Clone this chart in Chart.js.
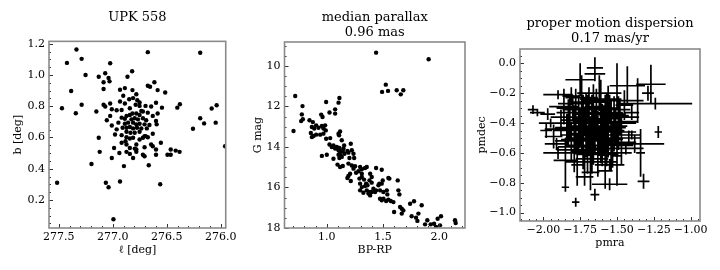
<!DOCTYPE html>
<html>
<head>
<meta charset="utf-8">
<script src="https://cdn.jsdelivr.net/npm/chart.js@4.4.1/dist/chart.umd.min.js"></script>
<style>
    html, body {
        margin: 0;
        padding: 0;
        background: #ffffff;
    }

    #figure {
        position: relative;
        width: 720px;
        height: 270px;
        overflow: hidden;
    }

    #figure canvas {
        position: absolute;
        top: 0;
    }
</style>
</head>
<body>
<div id="figure">
    <canvas id="skyChart" width="240" height="270" style="left:0px"></canvas>
    <canvas id="cmdChart" width="240" height="270" style="left:240px"></canvas>
    <canvas id="pmChart" width="250" height="270" style="left:470px"></canvas>
</div>
<script>

const SERIF = "'DejaVu Serif', 'Liberation Serif', serif";

// panel 1: sky positions
const skyTitle = "UPK 558";

const glon = [
    277.336, 277.424, 277.288, 277.252, 277.385, 277.470, 277.342, 277.288,
    277.515, 277.197, 277.070, 277.024, 276.821, 276.676, 276.191, 277.064,
    277.039, 276.994, 276.933, 276.897, 276.667, 276.561, 276.258, 276.191,
    276.155, 276.085, 276.039, 276.048, 275.961,
    277.130, 277.039, 277.030, 277.085, 276.864, 277.085, 276.615, 276.676,
    276.655, 276.585, 276.515, 276.933, 276.888, 276.818, 276.903, 276.782,
    276.933, 276.888, 276.848, 276.812, 276.773, 276.752, 276.788, 276.752,
    276.697, 276.645, 276.600, 276.379, 276.403, 277.085, 277.070, 277.024,
    277.009, 276.964, 276.918, 276.842, 276.736, 276.721, 276.545, 277.152,
    276.818, 276.782, 276.873, 276.842, 276.752, 276.676, 276.630, 276.585,
    276.918, 276.888, 277.024, 276.827, 276.797, 276.767, 276.721, 276.691,
    276.948, 276.888, 276.858, 276.812, 276.782, 276.752, 276.706, 276.661,
    276.600, 277.055, 276.909, 276.873, 276.842, 276.812, 276.776, 276.736,
    276.685, 276.594, 277.009, 276.964, 276.873, 276.836, 276.797, 276.752,
    276.706, 276.676, 276.630, 276.979, 276.918, 276.873, 276.842, 276.812,
    276.752, 277.130, 276.918, 276.882, 276.721, 276.697, 276.782, 276.988,
    276.873, 276.645, 276.555, 276.842, 276.797, 276.782, 276.706, 276.630,
    276.600, 276.464, 276.418, 276.382, 276.494, 276.464, 277.121, 276.939,
    276.873, 276.842, 276.782, 276.721, 276.706, 276.600, 277.009, 276.812
];

const glat = [
    1.163, 1.077, 1.103, 1.000, 0.897, 0.787, 0.755, 0.809,
    0.310, 0.430, 1.011, 1.075, 1.024, 1.146, 1.142, 0.310,
    0.282, 0.077, 0.318, 0.417, 0.422, 0.301, 0.656, 0.723,
    0.690, 0.785, 0.806, 0.695, 0.544,
    0.989, 0.981, 0.959, 0.953, 0.989, 0.910, 0.953, 0.931,
    0.925, 0.903, 0.888, 0.905, 0.916, 0.903, 0.867, 0.877,
    0.830, 0.817, 0.845, 0.852, 0.839, 0.824, 0.809, 0.802,
    0.802, 0.798, 0.822, 0.813, 0.791, 0.809, 0.798, 0.817,
    0.781, 0.774, 0.776, 0.787, 0.770, 0.766, 0.791, 0.766,
    0.753, 0.753, 0.738, 0.744, 0.744, 0.759, 0.738, 0.753,
    0.727, 0.720, 0.738, 0.716, 0.723, 0.716, 0.723, 0.710,
    0.695, 0.688, 0.695, 0.695, 0.684, 0.688, 0.684, 0.680,
    0.705, 0.710, 0.662, 0.662, 0.667, 0.658, 0.662, 0.658,
    0.658, 0.684, 0.677, 0.652, 0.637, 0.630, 0.630, 0.637,
    0.609, 0.602, 0.624, 0.619, 0.615, 0.602, 0.594, 0.598,
    0.587, 0.598, 0.566, 0.576, 0.598, 0.609, 0.555, 0.533,
    0.555, 0.555, 0.566, 0.533, 0.529, 0.523, 0.538, 0.544,
    0.523, 0.523, 0.516, 0.508, 0.490, 0.490, 0.508, 0.501,
    0.508, 0.495, 0.508, 0.490, 0.480, 0.490, 0.469, 0.469
];

const glonTicks = [277.5, 277.0, 276.5, 276.0];
const glatTicks = [0.2, 0.4, 0.6, 0.8, 1.0, 1.2];

// panel 2: colour-magnitude diagram
const cmdTitle = ["median parallax", "0.96 mas"];

const bpRp = [
    1.438, 1.905, 1.524, 1.491, 1.544, 1.621, 1.657, 1.680,
    0.719, 0.994, 1.112, 1.104, 0.784, 0.778, 0.787, 0.772,
    0.846, 0.876, 0.950, 0.962, 1.024, 1.074, 1.074, 0.704,
    0.867, 0.888, 0.905, 0.926, 0.956, 0.985, 0.970, 0.991,
    0.858, 0.882, 0.905, 0.867, 0.941, 0.970, 0.994, 1.030,
    1.118, 1.104, 1.109, 1.024, 1.044, 1.059, 1.074, 1.089,
    1.112, 0.956, 1.000, 1.059, 1.104, 1.118, 1.104, 1.124,
    1.112, 1.133, 1.148, 1.157, 1.095, 1.118, 1.142, 1.192,
    1.222, 1.237, 1.213, 1.133, 1.154, 1.142, 1.183, 1.201,
    1.243, 1.192, 1.222, 1.251, 1.237, 1.296, 1.311, 1.340,
    1.355, 1.207, 1.192, 1.183, 1.260, 1.281, 1.311, 1.311,
    1.290, 1.385, 1.399, 1.438, 1.488, 1.213, 1.379, 1.399,
    1.296, 1.311, 1.340, 1.361, 1.414, 1.438, 1.473, 1.503,
    1.533, 1.538, 1.385, 1.355, 1.370, 1.296, 1.325, 1.459,
    1.488, 1.547, 1.331, 1.349, 1.497, 1.556, 1.630, 1.467,
    1.385, 1.473, 1.488, 1.503, 1.527, 1.547, 1.568, 1.592,
    1.636, 1.645, 1.598, 1.651, 1.666, 1.680, 1.666, 1.740,
    1.775, 1.843, 1.754, 1.793, 1.805, 1.814, 1.893, 1.923,
    1.953, 1.970, 2.006, 2.015, 1.985, 2.139, 2.145, 1.873,
    1.429, 1.399
];

const gMag = [
    9.34, 9.67, 10.92, 11.28, 11.23, 11.20, 11.40, 11.20,
    11.48, 11.78, 11.58, 11.81, 11.98, 12.39, 12.63, 12.72,
    12.68, 12.77, 12.40, 12.52, 12.30, 12.14, 12.35, 13.21,
    13.01, 13.09, 12.93, 13.05, 12.96, 12.93, 13.09, 13.18,
    13.31, 13.46, 13.39, 13.51, 13.39, 13.34, 13.59, 13.56,
    13.23, 13.34, 13.42, 13.88, 14.00, 13.92, 14.08, 14.00,
    14.05, 14.44, 14.38, 14.58, 14.16, 14.25, 14.38, 14.41,
    14.54, 14.49, 14.08, 14.33, 14.87, 14.99, 14.94, 14.28,
    14.16, 14.33, 13.84, 13.67, 13.92, 14.20, 14.20, 14.54,
    14.54, 14.82, 14.91, 14.95, 15.07, 14.99, 15.10, 15.04,
    14.99, 15.32, 15.43, 15.53, 15.27, 15.20, 15.32, 15.48,
    15.56, 15.32, 15.48, 15.04, 15.12, 15.68, 15.65, 15.76,
    15.81, 15.98, 15.93, 15.89, 16.06, 16.14, 16.14, 16.22,
    16.14, 16.34, 16.22, 16.14, 16.30, 16.14, 16.26, 15.89,
    15.81, 15.53, 15.61, 15.81, 15.65, 15.56, 15.65, 15.81,
    16.39, 16.55, 16.63, 16.55, 16.67, 16.60, 16.67, 16.72,
    16.14, 16.34, 17.21, 16.96, 17.05, 17.13, 17.29, 16.80,
    16.68, 16.88, 17.42, 17.49, 17.65, 17.29, 17.62, 17.82,
    17.79, 17.95, 17.87, 17.42, 17.54, 17.62, 17.75, 17.82,
    16.22, 16.22
];

const bpRpTicks = [1.0, 1.5, 2.0];
const gMagTicks = [10, 12, 14, 16, 18];

// panel 3: proper motions with errors
const pmTitle = ["proper motion dispersion", "0.17 mas/yr"];

const pmra = [
    -2.07, -2.04, -1.97, -1.98, -1.93, -1.85, -1.78, -1.65,
    -1.32, -1.22, -1.29, -1.27, -1.65, -1.65, -1.75, -1.24,
    -1.36, -1.43, -1.50, -1.47, -1.38, -1.34, -1.55, -1.50,
    -1.58, -1.68, -1.72, -1.77, -1.85, -1.55, -1.90, -1.91,
    -1.95, -1.90, -1.81, -1.45, -1.40, -1.42, -1.44, -1.40,
    -1.80, -1.76, -1.73, -1.70, -1.67, -1.64, -1.61, -1.58,
    -1.55, -1.52, -1.79, -1.75, -1.72, -1.69, -1.66, -1.63,
    -1.60, -1.57, -1.54, -1.51, -1.78, -1.74, -1.71, -1.68,
    -1.65, -1.62, -1.59, -1.56, -1.53, -1.50, -1.77, -1.73,
    -1.70, -1.66, -1.63, -1.60, -1.57, -1.82, -1.84, -1.81,
    -1.86, -1.69, -1.61, -1.74, -1.48, -1.47, -1.88, -1.67,
    -1.72, -1.58,
    -1.78, -1.62, -1.56, -1.71, -1.64, -1.59, -1.67, -1.76,
    -1.83, -1.52, -1.61, -1.70, -1.79, -1.49, -1.66, -1.74,
    -1.57, -1.63, -1.69, -1.54
];

const pmdec = [
    -0.31, -0.33, -0.34, -0.45, -0.49, -0.83, -0.93, -0.88,
    -0.79, -0.46, -0.20, -0.14, -0.03, -0.07, -0.11, -0.27,
    -0.25, -0.15, -0.15, -0.46, -0.54, -0.60, -0.68, -0.62,
    -0.72, -0.73, -0.76, -0.68, -0.65, -0.81, -0.60, -0.54,
    -0.40, -0.21, -0.22, -0.28, -0.33, -0.50, -0.57, -0.48,
    -0.30, -0.33, -0.36, -0.31, -0.34, -0.29, -0.33, -0.37,
    -0.31, -0.35, -0.40, -0.43, -0.39, -0.42, -0.38, -0.44,
    -0.40, -0.43, -0.39, -0.42, -0.48, -0.51, -0.47, -0.50,
    -0.46, -0.52, -0.48, -0.51, -0.55, -0.50, -0.56, -0.59,
    -0.55, -0.58, -0.61, -0.57, -0.60, -0.36, -0.44, -0.52,
    -0.29, -0.26, -0.24, -0.23, -0.36, -0.53, -0.40, -0.64,
    -0.66, -0.66,
    -0.27, -0.20, -0.25, -0.33, -0.37, -0.45, -0.48, -0.45,
    -0.40, -0.46, -0.55, -0.60, -0.58, -0.40, -0.30, -0.38,
    -0.34, -0.50, -0.44, -0.57
];

const pmraErr = [
    0.035, 0.050, 0.050, 0.040, 0.060, 0.025, 0.025, 0.030,
    0.040, 0.025, 0.040, 0.100, 0.055, 0.070, 0.100, 0.250,
    0.040, 0.120, 0.040, 0.060, 0.200, 0.030, 0.100, 0.030,
    0.050, 0.060, 0.060, 0.040, 0.080, 0.120, 0.100, 0.080,
    0.080, 0.100, 0.060, 0.060, 0.050, 0.080, 0.120, 0.060,
    0.110, 0.140, 0.100, 0.170, 0.130, 0.080, 0.150, 0.110,
    0.140, 0.100, 0.130, 0.170, 0.080, 0.140, 0.110, 0.150,
    0.100, 0.130, 0.180, 0.080, 0.100, 0.140, 0.110, 0.170,
    0.080, 0.130, 0.150, 0.100, 0.140, 0.110, 0.130, 0.080,
    0.150, 0.110, 0.140, 0.100, 0.170, 0.130, 0.150, 0.110,
    0.100, 0.130, 0.140, 0.110, 0.130, 0.100, 0.140, 0.110,
    0.130, 0.080,
    0.120, 0.150, 0.180, 0.200, 0.160, 0.140, 0.190, 0.170,
    0.130, 0.150, 0.180, 0.150, 0.120, 0.120, 0.170, 0.140,
    0.130, 0.160, 0.130, 0.120
];

const pmdecErr = [
    0.030, 0.025, 0.040, 0.050, 0.080, 0.030, 0.030, 0.040,
    0.050, 0.040, 0.050, 0.130, 0.070, 0.050, 0.110, 0.040,
    0.150, 0.130, 0.150, 0.120, 0.060, 0.160, 0.040, 0.200,
    0.120, 0.120, 0.060, 0.140, 0.150, 0.040, 0.040, 0.040,
    0.030, 0.030, 0.060, 0.100, 0.050, 0.050, 0.040, 0.030,
    0.090, 0.120, 0.150, 0.100, 0.130, 0.120, 0.090, 0.160,
    0.100, 0.130, 0.120, 0.130, 0.100, 0.150, 0.090, 0.120,
    0.130, 0.100, 0.150, 0.120, 0.130, 0.100, 0.160, 0.120,
    0.150, 0.100, 0.130, 0.120, 0.150, 0.100, 0.090, 0.120,
    0.130, 0.100, 0.150, 0.120, 0.090, 0.150, 0.100, 0.130,
    0.120, 0.100, 0.130, 0.150, 0.120, 0.150, 0.090, 0.100,
    0.090, 0.130,
    0.100, 0.120, 0.100, 0.130, 0.150, 0.170, 0.120, 0.140,
    0.160, 0.130, 0.120, 0.140, 0.150, 0.180, 0.160, 0.120,
    0.140, 0.160, 0.180, 0.150
];

const pmraTicks = [-2.0, -1.75, -1.5, -1.25, -1.0];
const pmdecTicks = [0.0, -0.2, -0.4, -0.6, -0.8, -1.0];


function formatTick(value, decimals) {

    return Number(value)
        .toFixed(decimals)
        .replace("-", "\u2212");

}

function minorValues(scale, step, majors) {

    const values = [];
    const start = Math.ceil(scale.min / step - 1e-6);
    const end = Math.floor(scale.max / step + 1e-6);

    for (let k = start; k <= end; k++) {

        const v = k * step;

        const isMajor = majors.some(
            m => Math.abs(m - v) < step / 10
        );

        if (!isMajor) {
            values.push(v);
        }
    }

    return values;

}

// gray frame and inward ticks, matplotlib style
const framePlugin = {

    id: "frame",

    afterDraw(chart, args, opts) {

        const ctx = chart.ctx;
        const area = chart.chartArea;
        const xs = chart.scales.x;
        const ys = chart.scales.y;

        ctx.save();
        ctx.strokeStyle = "#333333";
        ctx.lineWidth = 1;

        const xTick = (v, len) => {
            const px = Math.round(xs.getPixelForValue(v)) + 0.5;
            ctx.beginPath();
            ctx.moveTo(px, area.bottom);
            ctx.lineTo(px, area.bottom - len);
            ctx.stroke();
        };

        const yTick = (v, len) => {
            const py = Math.round(ys.getPixelForValue(v)) + 0.5;
            ctx.beginPath();
            ctx.moveTo(area.left, py);
            ctx.lineTo(area.left + len, py);
            ctx.stroke();
        };

        opts.xMajor.forEach(v => xTick(v, 4));
        opts.yMajor.forEach(v => yTick(v, 4));

        minorValues(xs, opts.xMinor, opts.xMajor)
            .forEach(v => xTick(v, 2));

        minorValues(ys, opts.yMinor, opts.yMajor)
            .forEach(v => yTick(v, 2));

        ctx.strokeStyle = "#8a8a8a";
        ctx.lineWidth = 1.6;
        ctx.strokeRect(
            area.left,
            area.top,
            area.right - area.left,
            area.bottom - area.top
        );

        ctx.restore();

    }

};

function axis(cfg) {

    const isX = cfg.axis === "x";

    return {

        type: "linear",
        position: isX ? "bottom" : "left",
        min: cfg.min,
        max: cfg.max,
        reverse: !!cfg.reverse,

        grid: {
            display: false,
            drawTicks: false
        },

        border: {
            display: false
        },

        ticks: {
            autoSkip: false,
            maxRotation: 0,
            padding: isX ? 3 : 4,
            color: "#000000",
            font: {
                family: SERIF,
                size: 11
            },
            callback: value =>
                formatTick(value, cfg.decimals)
        },

        title: {
            display: true,
            text: cfg.title,
            color: "#000000",
            font: {
                family: SERIF,
                size: 11
            },
            padding: cfg.titlePadding
        },

        afterBuildTicks: scale => {
            scale.ticks = cfg.ticks.map(
                v => ({ value: v })
            );
        },

        afterFit: scale => {
            if (isX) {
                scale.height = cfg.size;
            } else {
                scale.width = cfg.size;
            }
        }

    };

}

function panelOptions(p) {

    return {

        responsive: false,
        animation: false,
        devicePixelRatio: 1,

        layout: {
            autoPadding: false,
            padding: {
                left: 0,
                right: p.right,
                top: 0,
                bottom: 0
            }
        },

        plugins: {

            legend: { display: false },
            tooltip: { enabled: false },

            title: {
                display: true,
                text: p.title,
                fullSize: false,
                color: "#000000",
                font: {
                    family: SERIF,
                    size: 13,
                    weight: "normal",
                    lineHeight: 1.15
                },
                padding: p.titlePadding
            },

            frame: p.frame

        },

        scales: {
            x: axis(p.x),
            y: axis(p.y)
        }

    };

}

function dots(xs, ys) {

    return {
        data: xs.map((x, i) => ({ x: x, y: ys[i] })),
        showLine: false,
        pointRadius: 2.2,
        pointBorderWidth: 0,
        pointBackgroundColor: "#000000"
    };

}

function errorBars() {

    const pts = [];

    pmra.forEach((x, i) => {

        const y = pmdec[i];

        pts.push(
            { x: x - pmraErr[i], y: y },
            { x: x + pmraErr[i], y: y },
            { x: x, y: null },
            { x: x, y: y - pmdecErr[i] },
            { x: x, y: y + pmdecErr[i] },
            { x: x, y: null }
        );

    });

    return {
        data: pts,
        showLine: true,
        spanGaps: false,
        borderColor: "#000000",
        borderWidth: 1.7,
        pointRadius: 0
    };

}

new Chart(document.getElementById("skyChart"), {

    type: "scatter",
    data: { datasets: [dots(glon, glat)] },
    plugins: [framePlugin],

    options: panelOptions({
        title: skyTitle,
        right: 11,
        titlePadding: { top: 10, bottom: 16.4 },
        frame: {
            xMajor: glonTicks, xMinor: 0.1,
            yMajor: glatTicks, yMinor: 0.05
        },
        x: {
            axis: "x", min: 275.955, max: 277.59, reverse: true,
            ticks: glonTicks, decimals: 1, size: 42,
            title: "\u2113 [deg]",
            titlePadding: { top: 0, bottom: 13.4 }
        },
        y: {
            axis: "y", min: 0.021, max: 1.215,
            ticks: glatTicks, decimals: 1, size: 49,
            title: "b [deg]",
            titlePadding: { top: 11.4, bottom: 0 }
        }
    })

});

new Chart(document.getElementById("cmdChart"), {

    type: "scatter",
    data: { datasets: [dots(bpRp, gMag)] },
    plugins: [framePlugin],

    options: panelOptions({
        title: cmdTitle,
        right: 15,
        titlePadding: { top: 10.5, bottom: 1.6 },
        frame: {
            xMajor: bpRpTicks, xMinor: 0.1,
            yMajor: gMagTicks, yMinor: 0.5
        },
        x: {
            axis: "x", min: 0.624, max: 2.228,
            ticks: bpRpTicks, decimals: 1, size: 42,
            title: "BP-RP",
            titlePadding: { top: 0, bottom: 13.4 }
        },
        y: {
            axis: "y", min: 8.815, max: 18, reverse: true,
            ticks: gMagTicks, decimals: 0, size: 44.5,
            title: "G mag",
            titlePadding: { top: 11.4, bottom: 0 }
        }
    })

});

new Chart(document.getElementById("pmChart"), {

    type: "scatter",
    data: { datasets: [errorBars()] },
    plugins: [framePlugin],

    options: panelOptions({
        title: pmTitle,
        right: 20,
        titlePadding: { top: 16.5, bottom: 2.6 },
        frame: {
            xMajor: pmraTicks, xMinor: 0.05,
            yMajor: pmdecTicks, yMinor: 0.05
        },
        x: {
            axis: "x", min: -2.158, max: -0.937,
            ticks: pmraTicks, decimals: 2, size: 49,
            title: "pmra",
            titlePadding: { top: 0, bottom: 20.4 }
        },
        y: {
            axis: "y", min: -1.056, max: 0.096,
            ticks: pmdecTicks, decimals: 1, size: 50,
            title: "pmdec",
            titlePadding: { top: 5.4, bottom: 0 }
        }
    })

});

</script>
</body>
</html>
